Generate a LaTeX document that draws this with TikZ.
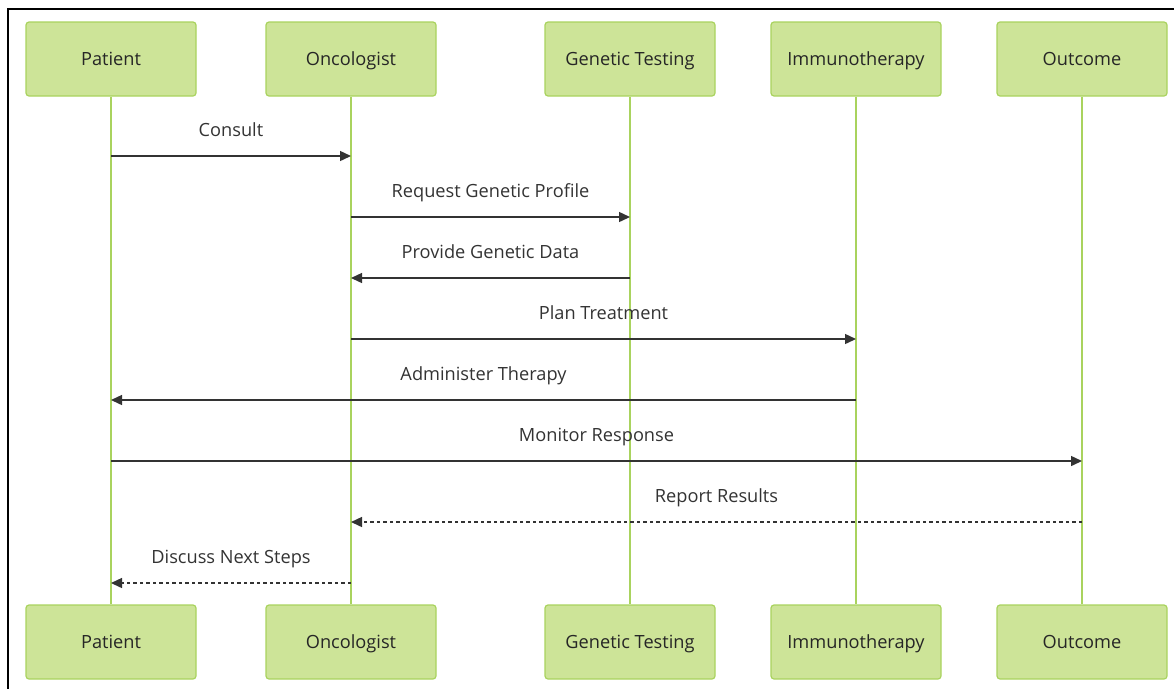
\documentclass[tikz,border=0pt]{standalone}
\usepackage{fontspec}
\setmainfont{Open Sans}
\usetikzlibrary{arrows.meta,calc}
\definecolor{actorfill}{HTML}{CDE498}
\definecolor{actorline}{HTML}{A9D35E}
\definecolor{msgcol}{HTML}{333333}

\begin{document}
\begin{tikzpicture}[x=1pt,y=-1pt,
    actor/.style={rectangle,rounded corners=3pt,fill=actorfill,draw=actorline,
                  line width=1.2pt,minimum width=170pt,minimum height=74pt,
                  text height=13pt,text depth=0pt,
                  text=black!85,font=\fontsize{18.2}{22}\selectfont},
    life/.style={draw=actorline,line width=2pt},
    msg/.style={draw=msgcol,line width=1.4pt,-{Triangle[length=11pt,width=10pt]}},
    reply/.style={msg,dash pattern=on 3.5pt off 3pt},
    msglabel/.style={text=msgcol,anchor=base,font=\fontsize{18.2}{22}\selectfont}]
  \useasboundingbox (0,0) rectangle (1174,689);
  % frame
  \draw[line width=2pt] (1174,9) -- (8,9) -- (8,689);

  % actors (top)
  \node[actor] (pat)  at (111,59)  {Patient};
  \node[actor] (onc)  at (351,59)  {Oncologist};
  \node[actor] (gen)  at (630,59)  {Genetic Testing};
  \node[actor] (imm)  at (856,59)  {Immunotherapy};
  \node[actor] (out)  at (1082,59) {Outcome};
  % actors (bottom)
  \node[actor] (patB) at (111,642)  {Patient};
  \node[actor] (oncB) at (351,642)  {Oncologist};
  \node[actor] (genB) at (630,642)  {Genetic Testing};
  \node[actor] (immB) at (856,642)  {Immunotherapy};
  \node[actor] (outB) at (1082,642) {Outcome};

  % lifelines
  \path[life] (pat) -- (patB)
              (onc) -- (oncB)
              (gen) -- (genB)
              (imm) -- (immB)
              (out) -- (outB);

  % message rows
  \coordinate (m1) at (0,156);
  \coordinate (m2) at (0,217);
  \coordinate (m3) at (0,278);
  \coordinate (m4) at (0,339);
  \coordinate (m5) at (0,400);
  \coordinate (m6) at (0,461);
  \coordinate (m7) at (0,522);
  \coordinate (m8) at (0,583);

  \draw[msg]   (pat |- m1) -- node[msglabel,yshift=20pt] {Consult} (onc |- m1);
  \draw[msg]   (onc |- m2) -- node[msglabel,yshift=20pt] {Request Genetic Profile} (gen |- m2);
  \draw[msg]   (gen |- m3) -- node[msglabel,yshift=20pt] {Provide Genetic Data} (onc |- m3);
  \draw[msg]   (onc |- m4) -- node[msglabel,yshift=20pt] {Plan Treatment} (imm |- m4);
  \draw[msg]   (imm |- m5) -- node[msglabel,yshift=20pt] {Administer Therapy} (pat |- m5);
  \draw[msg]   (pat |- m6) -- node[msglabel,yshift=20pt] {Monitor Response} (out |- m6);
  \draw[reply] (out |- m7) -- node[msglabel,yshift=20pt] {Report Results} (onc |- m7);
  \draw[reply] (onc |- m8) -- node[msglabel,yshift=20pt] {Discuss Next Steps} (pat |- m8);
\end{tikzpicture}
\end{document}
